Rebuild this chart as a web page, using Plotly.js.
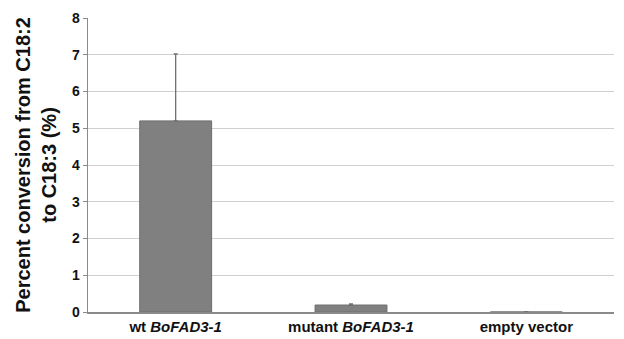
<!DOCTYPE html>
<html><head><meta charset="utf-8">
<script src="https://cdn.plot.ly/plotly-3.0.1.min.js"></script>
<style>html,body{margin:0;padding:0;background:#fff}#c{width:624px;height:339px}</style>
</head><body><div id="c"></div>
<script>
const categories = ["wt <i>BoFAD3-1</i>", "mutant <i>BoFAD3-1</i>", "empty vector"];
const values = [5.2, 0.19, 0.0];
const errors = [1.82, 0.03, 0.01];
const yTicks = [0,1,2,3,4,5,6,7,8];

Plotly.newPlot("c", [{
  type: "bar",
  x: categories,
  y: values,
  marker: {color: "#808080", line: {color: "#6e6e6e", width: 1}},
  error_y: {type: "data", array: errors, symmetric: false, arrayminus: [0,0,0], color: "#707070", thickness: 1.3, width: 2}
}], {
  width: 624, height: 339,
  margin: {l: 88, r: 10, t: 18, b: 27},
  paper_bgcolor: "#fff", plot_bgcolor: "#fff",
  font: {family: "Liberation Sans, Arial, sans-serif", color: "#111"},
  bargap: 0.59,
  showlegend: false,
  xaxis: {
    showline: true, linecolor: "#8a8a8a", linewidth: 1.5,
    tickfont: {size: 15, family: "Liberation Sans, Arial, sans-serif", weight: "bold"},
    ticks: "", showgrid: false
  },
  yaxis: {
    range: [0, 8], tickvals: yTicks, ticktext: yTicks.map(String),
    showline: true, linecolor: "#8a8a8a", linewidth: 1.5,
    showgrid: true, gridcolor: "#d0d0d0", gridwidth: 1,
    ticks: "outside", ticklen: 4, tickcolor: "#8a8a8a",
    tickfont: {size: 14, weight: "bold"},
    zeroline: false,
    title: {text: "Percent conversion from C18:2<br>to C18:3 (%)", font: {size: 20, weight: "bold"}, standoff: 10}
  }
}, {displayModeBar: false, staticPlot: true});
</script></body></html>
